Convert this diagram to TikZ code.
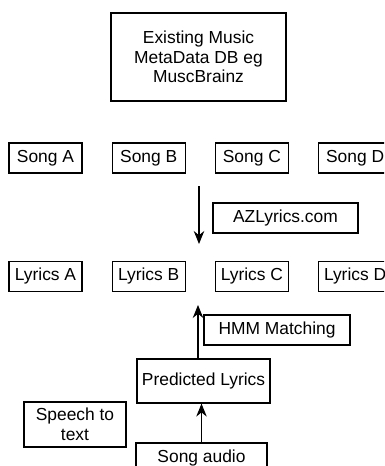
\documentclass[tikz,border=0pt]{standalone}
\usepackage{fontspec}
\setmainfont{Liberation Sans}
\usetikzlibrary{arrows.meta, positioning}

\begin{document}
\begin{tikzpicture}[x=1pt, y=-1pt, every node/.style={font=\fontsize{17.4}{19.5}\selectfont},
    box/.style={draw, line width=1.2pt, inner sep=0pt, minimum height=30pt},
    arr/.style={-{Stealth[length=13pt, width=10.5pt]}, line width=1.2pt}]
    \useasboundingbox (0,0) rectangle (384,466);
    \clip (0,0) rectangle (384,466);
    \node[box, minimum width=175pt, minimum height=88pt, align=center] (db) at (198.5,57) {Existing Music\\MetaData DB eg\\MuscBrainz};
    \node[box, minimum width=73pt] (songA) at (45.5,158) {Song A};
    \node[box, minimum width=73pt, right=29pt of songA] (songB) {Song B};
    \node[box, minimum width=73pt, right=29pt of songB] (songC) {Song C};
    \node[box, minimum width=73pt, right=29pt of songC] (songD) {Song D};
    \node[box, minimum width=73pt, below=87pt of songA] (lyrA) {Lyrics A};
    \node[box, minimum width=73pt, below=87pt of songB] (lyrB) {Lyrics B};
    \node[box, minimum width=73pt, below=87pt of songC] (lyrC) {Lyrics C};
    \node[box, minimum width=73pt, below=87pt of songD] (lyrD) {Lyrics D};
    \node[box, minimum width=145pt] (az) at (285.5,218) {AZLyrics.com};
    \node[box, minimum width=146pt] (hmm) at (277,330) {HMM Matching};
    \node[box, minimum width=133pt, minimum height=44pt] (pred) at (203.5,381) {Predicted Lyrics};
    \node[box, minimum width=102pt, minimum height=45pt, align=center] (stt) at (75,424.5) {Speech to\\text};
    \node[box, minimum width=131pt] (audio) at (201.5,458) {Song audio};
    \coordinate (dstart) at (199,186);
    \coordinate (dend) at (199,244);
    \coordinate (uptip) at (198,305);
    \draw[arr] (dstart) -- (dend);
    \draw[arr] (uptip |- pred.north) -- (uptip);
    \draw[arr] (audio.north) -- (audio.north |- pred.south);
\end{tikzpicture}
\end{document}
